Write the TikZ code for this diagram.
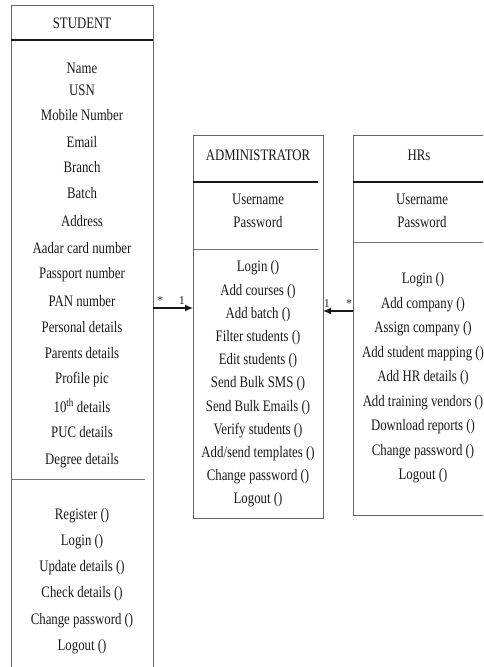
\documentclass[tikz,border=0pt]{standalone}
\usepackage{fontspec}
\setmainfont{Liberation Serif}
\usetikzlibrary{arrows.meta}

\begin{document}
\begin{tikzpicture}[x=1pt, y=-1pt,
  classbox/.style={draw=black!60, line width=1pt, inner sep=0pt, outer sep=0pt, anchor=north west},
  headline/.style={draw=black!90, line width=1.6pt},
  divline/.style={draw=black!55, line width=1pt},
  entry/.style={font=\fontsize{16}{18}\selectfont, xscale=0.8, text=black!90, inner sep=0pt},
  mult/.style={font=\fontsize{12}{13}\selectfont, text=black!85, inner sep=1pt},
  assoc/.style={draw=black!90, line width=1.3pt, -{Latex[length=8pt,width=7pt]}}]
\useasboundingbox (0,0) rectangle (483,667);
\clip (0,0) rectangle (483,667);

\node[classbox, minimum width=142pt, minimum height=700pt] (student) at (11,5) {};
\node[classbox, minimum width=130pt, minimum height=383pt] (admin) at (193,135) {};
\node[classbox, minimum width=140pt, minimum height=380pt] (hr) at (353,135) {};

\draw[headline] (student.west |- 0,40) -- (student.east |- 0,40);
\draw[divline, shorten >=8pt] (student.west |- 0,479) -- (student.east |- 0,479);
\draw[headline, shorten >=5pt] (admin.west |- 0,182) -- (admin.east |- 0,182);
\draw[divline, shorten >=5pt] (admin.west |- 0,249) -- (admin.east |- 0,249);
\draw[headline] (hr.west |- 0,182) -- (hr.east |- 0,182);
\draw[divline] (hr.west |- 0,242) -- (hr.east |- 0,242);

\node[entry] (student-t) at (82,23) {STUDENT};
\node[entry] (admin-t) at (258,155) {ADMINISTRATOR};
\node[entry] (hr-t) at (419,155) {HRs};

\foreach \y/\t [count=\i] in {68/Name, 90/USN, 115/Mobile Number, 142/Email, 167/Branch,
  193/Batch, 221/Address, 248/Aadar card number, 275/Passport number, 301/PAN number,
  327/Personal details, 353/Parents details, 380/Profile pic,
  406/{10\textsuperscript{th} details}, 432/PUC details, 461/Degree details}
  \node[entry] (student-a\i) at (82,\y) {\t};
\foreach \y/\t [count=\i] in {516/Register (), 542/Login (), 568/Update details (),
  594/Check details (), 621/Change password (), 647/Logout ()}
  \node[entry] (student-m\i) at (82,\y) {\t};

\foreach \y/\t [count=\i] in {199/Username, 222/Password}{
  \node[entry] (admin-a\i) at (258,\y) {\t};
  \node[entry] (hr-a\i) at (422,\y) {\t};
}
\foreach \t [count=\i from 0] in {Login (), Add courses (), Add batch (), Filter students (),
  Edit students (), Send Bulk SMS (), Send Bulk Emails (), Verify students (),
  Add/send templates (), Change password (), Logout ()}
  \node[entry] (admin-m\i) at (258,{268+23.2*\i}) {\t};
\foreach \t [count=\i from 0] in {Login (), Add company (), Assign company (),
  Add student mapping (), Add HR details (), Add training vendors (), Download reports (),
  Change password (), Logout ()}
  \node[entry] (hr-m\i) at (423,{280+24.5*\i}) {\t};

\draw[assoc] (student.east |- 0,308) -- node[mult, pos=0.18, above=2pt] (stu-mult) {*}
  node[mult, pos=0.72, above=2pt] (adm-mult1) {1} (admin.west |- 0,308);
\draw[assoc] (hr.west |- 0,311) -- node[mult, pos=0.13, above=2pt] (hr-mult) {*}
  node[mult, pos=0.87, above=2pt] (adm-mult2) {1} (admin.east |- 0,311);
\end{tikzpicture}
\end{document}
